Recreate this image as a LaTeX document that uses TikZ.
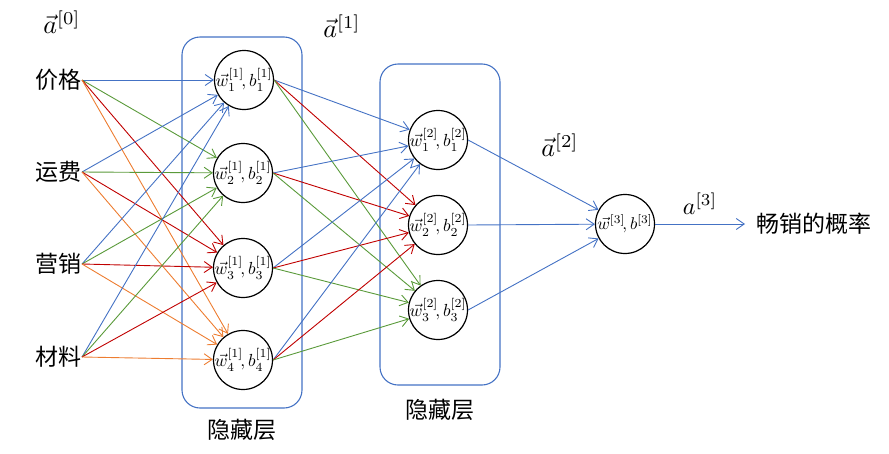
\documentclass[tikz,border=0pt]{standalone}
\usepackage{graphicx}
\usepackage{fontspec}
\newfontfamily\cjk{Noto Sans CJK SC}
\usetikzlibrary{arrows.meta}
\definecolor{cblue}{HTML}{4472C4}
\definecolor{cgreen}{HTML}{5A9A3A}
\definecolor{cred}{HTML}{C00000}
\definecolor{corange}{HTML}{ED7D31}
\newcommand{\nlab}[1]{\makebox[0pt]{\scalebox{1.75}{$#1$}}}
\newcommand{\alab}[1]{\scalebox{2.6}{$#1$}}
\tikzset{
  neuron/.style={circle, draw, line width=1.2pt, minimum size=59pt, inner sep=0pt},
  layerbox/.style={draw=cblue, rounded corners=18pt, line width=1.1pt, inner sep=0pt},
  conn/.style={-{Straight Barb[length=8pt,width=11pt]}, line width=0.9pt},
  cjktext/.style={font=\cjk\fontsize{23}{26}\selectfont, inner sep=0pt},
  mlabel/.style={inner sep=0pt}
}
\begin{document}
\begin{tikzpicture}[x=1pt,y=-1pt]
\useasboundingbox (0,0) rectangle (889,453);
% layer boxes
\node[layerbox, minimum width=120pt, minimum height=371pt] (L1) at (242,222.5) {};
\node[layerbox, minimum width=120pt, minimum height=321pt] (L2) at (440,224.5) {};
% inputs
\node[cjktext, anchor=east] (i1) at (82,80) {价格};
\node[cjktext, anchor=east] (i2) at (82,172) {运费};
\node[cjktext, anchor=east] (i3) at (82,264) {营销};
\node[cjktext, anchor=east] (i4) at (82,357) {材料};
% layer 1
\node[neuron] (h1) at (244,80) {\nlab{\vec{w}_1^{[1]}\!,b_1^{[1]}}};
\node[neuron] (h2) at (243,173) {\nlab{\vec{w}_2^{[1]}\!,b_2^{[1]}}};
\node[neuron] (h3) at (243,268) {\nlab{\vec{w}_3^{[1]}\!,b_3^{[1]}}};
\node[neuron] (h4) at (243,360) {\nlab{\vec{w}_4^{[1]}\!,b_4^{[1]}}};
% layer 2
\node[neuron] (g1) at (438,140) {\nlab{\vec{w}_1^{[2]}\!,b_1^{[2]}}};
\node[neuron] (g2) at (438,225) {\nlab{\vec{w}_2^{[2]}\!,b_2^{[2]}}};
\node[neuron] (g3) at (438,310) {\nlab{\vec{w}_3^{[2]}\!,b_3^{[2]}}};
% output
\node[neuron] (o) at (625,224) {\makebox[0pt]{\scalebox{1.7}{$\vec{w}^{[3]}\!,b^{[3]}$}}};
\node[cjktext, anchor=west] (out) at (756,224) {畅销的概率};
\coordinate (tip) at (745,224);
% labels
\node[mlabel] (a0) at (62,22) {\alab{\vec{a}^{[0]}}};
\node[mlabel] (a1) at (342,26) {\alab{\vec{a}^{[1]}}};
\node[mlabel] (a2) at (560,145) {\alab{\vec{a}^{[2]}}};
\node[mlabel] (a3) at (700,204) {\scalebox{2.4}{$a^{[3]}$}};
\node[cjktext] (t1) at (242,430) {隐藏层};
\node[cjktext] (t2) at (440,410) {隐藏层};
% connections input -> layer1
\foreach \i in {1,2,3,4}{
  \draw[conn, cblue] (i\i.east) -- (h1);
  \draw[conn, cgreen] (i\i.east) -- (h2);
  \draw[conn, cred] (i\i.east) -- (h3);
  \draw[conn, corange] (i\i.east) -- (h4);
}
% layer1 -> layer2
\foreach \i in {1,2,3,4}{
  \draw[conn, cblue] (h\i.east) -- (g1);
  \draw[conn, cred] (h\i.east) -- (g2);
  \draw[conn, cgreen] (h\i.east) -- (g3);
}
% layer2 -> output
\foreach \i in {1,2,3}{
  \draw[conn, cblue] (g\i.east) -- (o);
}
\draw[conn, cblue] (o.east) -- (tip);
\end{tikzpicture}
\end{document}
